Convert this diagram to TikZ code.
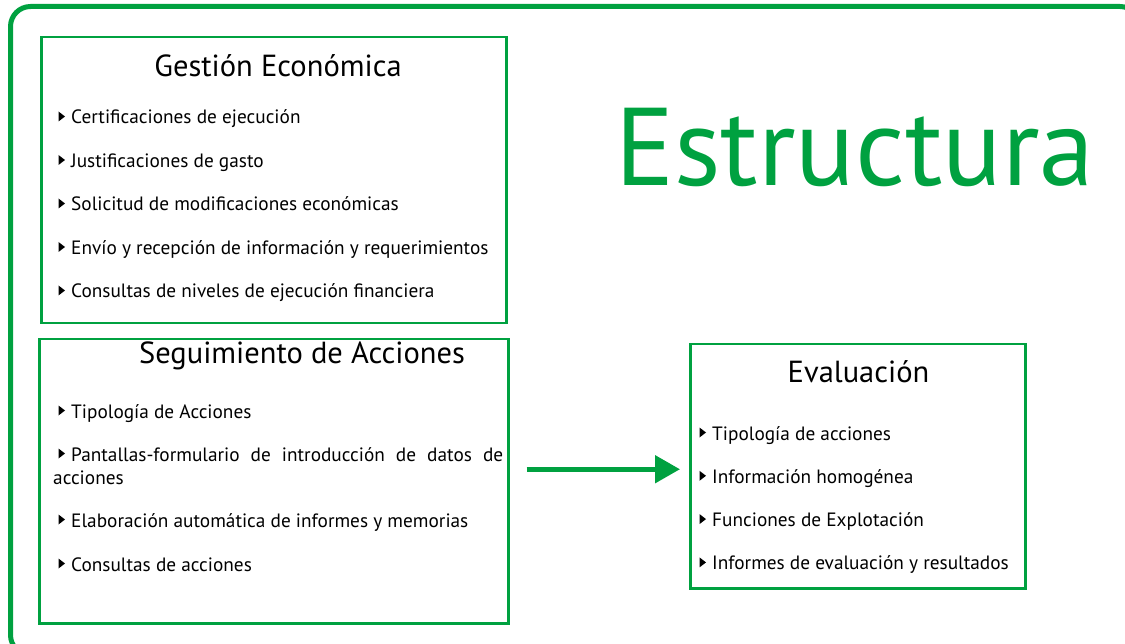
\documentclass[tikz,border=0pt]{standalone}
\usepackage{fontspec}
\setmainfont{PT Sans}
\usetikzlibrary{arrows.meta, positioning}
\definecolor{verde}{RGB}{0,161,64}
% small black triangle in front of every item
\newcommand{\bala}[1]{\fill ([shift={(-12.5,-2.5)}]#1) -- ++(6.5,-5) -- ++(-6.5,-5) -- cycle;}

\begin{document}
\begin{tikzpicture}[x=1pt, y=-1pt]
  \tikzset{
    caja/.style={draw=verde, line width=2.5pt, anchor=north west, inner sep=0pt},
    titulo/.style={anchor=base, inner sep=0pt, font=\fontsize{30.5}{34}\selectfont},
    item/.style={anchor=base west, inner sep=0pt, font=\fontsize{19.3}{23}\selectfont},
    flecha/.style={draw=verde, line width=5pt, -{Triangle[length=25pt, width=27pt]}}
  }
  \useasboundingbox (0,0) rectangle (1125,644);
  \draw[verde, line width=5pt, rounded corners=20pt] (10.5,6.5) rectangle (1140,655);

  \node[caja, minimum width=465pt, minimum height=286pt] (gestion) at (40,36) {};
  \node[caja, minimum width=469pt, minimum height=284pt] (segui) at (38,338) {};
  \node[caja, minimum width=335pt, minimum height=244pt] (eval) at (689,343) {};

  \node[titulo] (tgestion) at (278,77) {Gestión Económica};
  \node[titulo] (tsegui) at (302,364) {Seguimiento de Acciones};
  \node[titulo] (teval) at (858.5,382) {Evaluación};
  \node[anchor=base, inner sep=0pt, text=verde, font=\fontsize{110.5}{122}\selectfont] (estructura) at (855,186) {Estructura};

  \foreach \t [count=\i from 0] in {Certificaciones de ejecución, Justificaciones de gasto,
      Solicitud de modificaciones económicas, Envío y recepción de información y requerimientos,
      Consultas de niveles de ejecución financiera} {
    \node[item] (g\i) at (71,124+43.5*\i) {\t};
    \bala{g\i.base west}
  }

  \node[item] (s0) at (71,418) {Tipología de Acciones};
  \node[item] (s1) at (71,461) {\makebox[432pt][s]{Pantallas-formulario de introducción de datos de}};
  \node[item] (s1b) at (53,484) {acciones};
  \node[item] (s2) at (71,527) {Elaboración automática de informes y memorias};
  \node[item] (s3) at (71,571) {Consultas de acciones};
  \foreach \n in {s0,s1,s2,s3} { \bala{\n.base west} }

  \foreach \t [count=\i from 0] in {Tipología de acciones, Información homogénea,
      Funciones de Explotación, Informes de evaluación y resultados} {
    \node[item] (e\i) at (712,440+43.3*\i) {\t};
    \bala{e\i.base west}
  }

  \coordinate (ini) at ([xshift=17pt, yshift=12pt]segui.east);
  \draw[flecha] (ini) -- ([xshift=-9pt]ini -| eval.west);
\end{tikzpicture}
\end{document}
